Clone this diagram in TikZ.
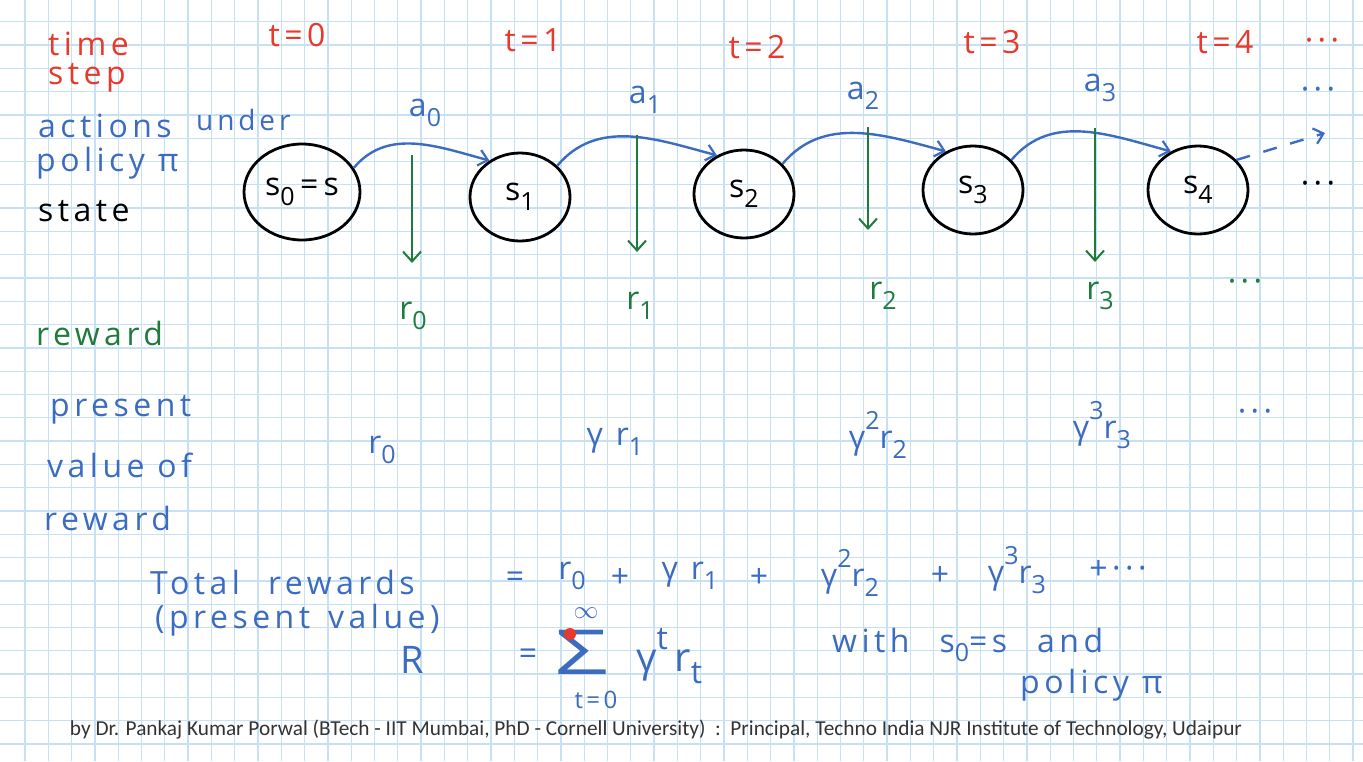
\documentclass[tikz,border=0pt]{standalone}
\usepackage{fontspec}
\usetikzlibrary{shapes.geometric,arrows.meta}
\newfontfamily\hand[LetterSpace=14]{Open Sans}
\newfontfamily\foot{Carlito}
\definecolor{hred}{HTML}{E8392B}
\definecolor{hblue}{HTML}{3B6CC0}
\definecolor{hgreen}{HTML}{1E7B3C}
\definecolor{gridc}{HTML}{C6E0F4}
\definecolor{footc}{HTML}{333333}
\newcommand\lo[1]{\raisebox{-0.3em}{\fontsize{25}{25}\selectfont #1}}
\newcommand\hi[1]{\raisebox{0.6em}{\fontsize{25}{25}\selectfont #1}}
\newcommand\biglo[1]{\raisebox{-0.3em}{\fontsize{32}{32}\selectfont #1}}
\newcommand\bighi[1]{\raisebox{0.55em}{\fontsize{32}{32}\selectfont #1}}
\tikzset{
  lbl/.style={font=\hand\fontsize{32}{36}\selectfont, inner sep=0pt},
  tlbl/.style={lbl, text=hred},
  blbl/.style={lbl, text=hblue},
  glbl/.style={lbl, text=hgreen},
  st/.style={ellipse, draw=black, line width=2.8pt, minimum width=100pt, minimum height=88pt, inner sep=0pt, font=\hand\fontsize{32}{34}\selectfont},
  act/.style={draw=hblue, line width=2.4pt, -{Straight Barb[length=9pt,width=16pt,line width=2.2pt]}},
  rew/.style={draw=hgreen, line width=2pt, -{Straight Barb[length=10pt,width=18pt,line width=2pt]}},
  gridline/.style={draw=gridc, line width=1.3pt}
}
\begin{document}
\begin{tikzpicture}[x=1pt,y=-1pt]
\useasboundingbox (0,0) rectangle (1363,761);
\fill[white] (0,0) rectangle (1363,761);
\foreach \i in {0,...,58} \draw[gridline] ({25+23.3*\i},0) -- ({25+23.3*\i},761);
\foreach \j in {0,...,32} \draw[gridline] (0,{21.7+23.3*\j}) -- (1363,{21.7+23.3*\j});

% row labels
\node[tlbl,anchor=west] (time) at (48,44) {time};
\node[tlbl,anchor=west] (step) at (48,78) {step};
\node[blbl,anchor=west] (actions) at (38,126) {actions};
\node[blbl,anchor=west,font=\hand\fontsize{28}{32}\selectfont] (under) at (196,120) {under};
\node[blbl,anchor=west] (policy) at (36,163) {policy π};
\node[lbl,text=black,anchor=west] (state) at (38,211) {state};
\node[glbl,anchor=west] (reward) at (36,333) {reward};
\node[blbl,anchor=west] (present) at (50,410) {present};
\node[blbl,anchor=west] (valueof) at (47,465) {value of};
\node[blbl,anchor=west] (reward2) at (44,518) {reward};

% time steps
\node[tlbl] (t0) at (297,35) {t=0};
\node[tlbl] (t1) at (533,40) {t=1};
\node[tlbl] (t2) at (757,47) {t=2};
\node[tlbl] (t3) at (992,42) {t=3};
\node[tlbl] (t4) at (1225,42) {t=4};
\node[tlbl] (tdots) at (1322,45) {···};

% states
\node[st, minimum width=116pt, minimum height=96pt] (s0) at (302,192) {s\lo{0}\,=\,s};
\node[st] (s1) at (520,197) {s\lo{1}};
\node[st] (s2) at (744,194) {s\lo{2}};
\node[st] (s3) at (973,190) {s\lo{3}};
\node[st] (s4) at (1198,190) {s\lo{4}};
\node[lbl,text=black] (sdots) at (1318,188) {···};

% actions
\draw[act] (s0.25) to[out=50,in=165] (s1.130);
\draw[act] (s1.40) to[out=50,in=165] (s2.125);
\draw[act] (s2.38) to[out=50,in=165] (s3.125);
\draw[act] (s3.38) to[out=50,in=165] (s4.125);
\coordinate (dashend) at (1325,133);
\draw[act, dash pattern=on 14pt off 14pt] (s4.38) -- (dashend);
\node[blbl] (a0) at (425,113) {a\lo{0}};
\node[blbl] (a1) at (645,100) {a\lo{1}};
\node[blbl] (a2) at (863,96) {a\lo{2}};
\node[blbl] (a3) at (1100,88) {a\lo{3}};
\node[blbl] (adots) at (1318,94) {···};

% rewards
\coordinate (g0t) at (412,155); \coordinate (g0b) at (412,263);
\coordinate (g1t) at (637,135); \coordinate (g1b) at (637,252);
\coordinate (g2t) at (868,127); \coordinate (g2b) at (868,230);
\coordinate (g3t) at (1095,128); \coordinate (g3b) at (1095,262);
\draw[rew] (g0t) -- (g0b);
\draw[rew] (g1t) -- (g1b);
\draw[rew] (g2t) -- (g2b);
\draw[rew] (g3t) -- (g3b);
\node[glbl] (r0) at (413,316) {r\lo{0}};
\node[glbl] (r1) at (640,306) {r\lo{1}};
\node[glbl] (r2) at (883,296) {r\lo{2}};
\node[glbl] (r3) at (1100,296) {r\lo{3}};
\node[glbl] (rdots) at (1245,286) {···};

% present values
\node[blbl] (p0) at (382,450) {r\lo{0}};
\node[blbl] (p1) at (615,442) {γ r\lo{1}};
\node[blbl] (p2) at (878,435) {γ\hi{2}r\lo{2}};
\node[blbl] (p3) at (1102,425) {γ\hi{3}r\lo{3}};
\node[blbl] (pdots) at (1255,416) {···};

% totals
\node[blbl,anchor=west] (total) at (150,582) {Total\hspace{28pt}rewards};
\node[blbl] (eqA) at (515,580) {=};
\node[blbl] (er0) at (572,576) {r\lo{0}};
\node[blbl] (pl1) at (620,578) {+};
\node[blbl] (eg1) at (690,576) {γ r\lo{1}};
\node[blbl] (pl2) at (759,578) {+};
\node[blbl] (eg2) at (850,573) {γ\hi{2}r\lo{2}};
\node[blbl] (pl3) at (940,576) {+};
\node[blbl] (eg3) at (1017,570) {γ\hi{3}r\lo{3}};
\node[blbl] (pld) at (1118,570) {+···};
\node[blbl,anchor=west] (pv) at (155,620) {(present\hspace{18pt}value)};
\node[blbl,font=\hand\fontsize{38}{40}\selectfont] (R) at (412,660) {R};
\node[blbl] (eq2) at (528,657) {=};
\node[blbl,font=\hand\fontsize{62}{64}\selectfont] (sum) at (582,652) {\scalebox{1.5}[1]{Σ}};
\node[blbl,font=\fontsize{30}{30}\selectfont] (inf) at (586,613) {$\infty$};
\node[blbl,font=\hand\fontsize{24}{26}\selectfont] (tz) at (596,700) {t=0};
\node[blbl,anchor=west,font=\hand\fontsize{40}{42}\selectfont] (gt) at (636,656) {γ\bighi{t}\,r\biglo{t}};
\node[blbl,anchor=west] (with) at (832,645) {with\hspace{30pt}s\lo{0}=s\hspace{30pt}and};
\node[blbl,anchor=west] (pol2) at (1020,685) {policy π};
\fill[hred] (570,634) circle (6);

% footer
\node[font=\foot\fontsize{21.3}{23}\selectfont, text=footc, inner sep=0pt] (footer) at (656,730) {by Dr. Pankaj Kumar Porwal (BTech - IIT Mumbai, PhD - Cornell University)\ \ :\ \ Principal, Techno India NJR Institute of Technology, Udaipur};
\end{tikzpicture}
\end{document}
